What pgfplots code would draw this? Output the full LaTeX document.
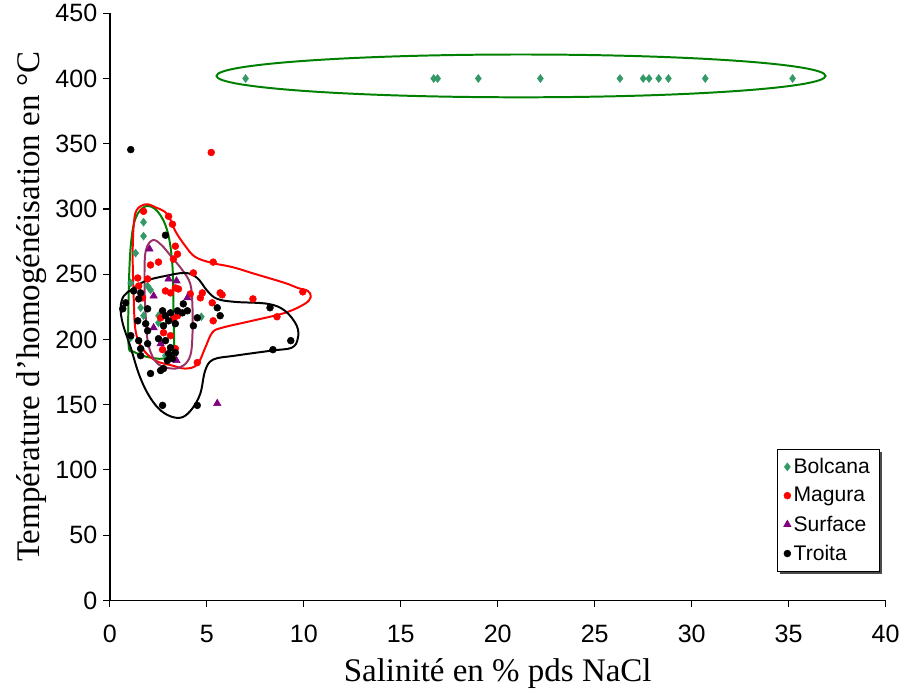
\documentclass[border=0pt]{standalone}
\usepackage{fontspec}
\setmainfont{Liberation Serif}
\newfontfamily\arial{Liberation Sans}
\usepackage{pgfplots}
\pgfplotsset{compat=1.18}
\usetikzlibrary{shadows}
\definecolor{bolc}{HTML}{339966}
\definecolor{envgreen}{HTML}{008000}
\definecolor{surf}{HTML}{800080}
\definecolor{envpurple}{HTML}{993366}
\begin{document}
\begin{tikzpicture}
\begin{axis}[
  scale only axis, width=588pt, height=445pt,
  xmin=0, xmax=40, ymin=0, ymax=450,
  axis x line*=bottom, axis y line*=left,
  axis line style={-, line width=1.3pt},
  xtick={0,5,...,40}, ytick={0,50,...,450},
  tick align=outside, major tick length=5pt,
  tick style={black, line width=0.8pt},
  /pgf/number format/assume math mode=true,
  tick label style={font=\arial\fontsize{19}{21}\selectfont},
  xticklabel style={yshift=-10pt},
  yticklabel style={xshift=-1pt},
  xlabel={Salinité en \% pds NaCl},
  ylabel={Température d'homogénéisation en °C},
  label style={font=\fontsize{25}{29}\selectfont},
  xlabel style={yshift=-5pt},
  ylabel style={yshift=0pt},
  clip=false,
  legend cell align=left,
  legend style={at={(rel axis cs:0.992,0.049)}, anchor=south east,
    font=\arial\fontsize{16}{18}\selectfont, draw=black, fill=white,
    row sep=5pt, inner sep=5pt,
    drop shadow={shadow xshift=2pt, shadow yshift=-2pt, fill=black!70, opacity=1}},
]
% Bolcana
\addplot[only marks, mark=diamond*, mark size=3pt, color=bolc] coordinates {
(7.0,400) (16.7,400) (16.9,400) (19.0,400) (22.2,400) (26.3,400) (27.5,400)
(27.8,400) (28.3,400) (28.8,400) (30.7,400) (35.2,400)
(1.74,289.9) (1.74,279.2) (1.33,266.2) (1.08,243.3) (2.10,238.0) (1.95,241.0)
(1.59,224.3) (1.74,218.2) (2.51,218.2) (2.51,212.8) (1.08,201.4) (2.87,187.6)
(4.72,217.4)
};
\addlegendentry{Bolcana}
% Magura
\addplot[only marks, mark=*, mark size=2.6pt, color=red] coordinates {
(5.23,343.3) (1.74,298.2) (3.03,294.4) (3.23,288.3) (3.38,271.5) (3.49,265.4)
(3.28,261.6) (2.51,259.3) (2.10,257.1) (5.33,259.3) (1.44,247.1) (1.95,246.4)
(2.87,237.2) (3.13,235.7) (3.38,239.5) (4.31,251.0) (4.77,235.7) (4.67,231.9)
(5.28,228.1) (5.69,235.7) (5.79,234.2) (5.33,214.3) (3.49,218.2) (3.28,215.9)
(2.77,205.2) (3.13,202.9) (3.38,193.0) (4.51,182.3) (2.72,192.2) (3.54,238.7)
(4.15,234.9) (9.95,236.5) (7.38,231.1) (8.62,217.4) (1.69,231.9) (2.62,216.6)
(1.49,241.0)
};
\addlegendentry{Magura}
% Surface
\addplot[only marks, mark=triangle*, mark size=3.2pt, color=surf] coordinates {
(2.05,269.3) (2.26,233.4) (3.03,246.4) (3.44,244.9) (2.26,209.0) (2.62,196.8)
(4.00,231.9) (3.44,183.8) (5.54,151.0)
};
\addlegendentry{Surface}
% Troita
\addplot[only marks, mark=*, mark size=2.6pt, color=black] coordinates {
(1.08,345.5) (2.87,279.9) (0.67,223.5) (0.82,228.1) (1.23,237.2) (1.59,235.7)
(1.49,231.1) (1.95,223.5) (1.44,214.3) (1.85,212.1) (1.95,206.7) (2.72,222.0)
(2.87,218.2) (3.13,220.4) (3.03,214.3) (2.77,210.5) (2.87,199.1) (3.79,227.3)
(3.74,220.4) (4.00,222.0) (3.49,222.0) (3.38,212.1) (4.31,210.5) (5.69,218.2)
(5.54,224.3) (4.51,216.6) (1.08,202.9) (1.49,199.1) (1.59,193.0) (1.95,196.8)
(2.51,200.6) (3.13,193.7) (3.03,189.2) (2.97,183.8) (3.23,185.4) (2.10,173.9)
(2.62,176.2) (2.77,177.7) (2.72,149.5) (4.51,149.5) (8.26,224.3) (9.33,199.1)
(8.41,192.2) (1.59,187.6) (3.38,189.9)
};
\addlegendentry{Troita}
% envelopes
\draw[envgreen, line width=1.5pt] (axis cs:21.2,402) ellipse [x radius=15.7, y radius=16.4];
\draw[envgreen, line width=1.5pt] plot[smooth cycle, tension=0.6] coordinates {
(axis cs:0.97,195.3) (axis cs:0.97,233.4) (axis cs:1.08,271.6) (axis cs:1.33,292.9)
(axis cs:1.85,302.1) (axis cs:2.46,298.2) (axis cs:2.97,283.0) (axis cs:3.23,256.3)
(axis cs:3.28,218.2) (axis cs:3.28,191.5) (axis cs:2.77,185.4) (axis cs:1.85,186.9)
(axis cs:1.23,190.7)};
\draw[red, line width=1.5pt] plot[smooth cycle, tension=0.6] coordinates {
(axis cs:1.23,286.8) (axis cs:1.38,299.0) (axis cs:1.85,303.6) (axis cs:2.36,301.3)
(axis cs:2.97,296.0) (axis cs:3.38,283.0) (axis cs:3.90,271.5) (axis cs:4.41,263.2)
(axis cs:5.28,258.6) (axis cs:6.31,255.5) (axis cs:7.49,250.2) (axis cs:9.03,243.3)
(axis cs:9.69,239.5) (axis cs:10.21,237.2) (axis cs:10.36,232.6) (axis cs:10.05,227.3)
(axis cs:9.03,220.4) (axis cs:7.33,214.3) (axis cs:5.79,209.0) (axis cs:5.28,205.2)
(axis cs:4.92,193.7) (axis cs:4.51,180.8) (axis cs:3.90,177.7) (axis cs:3.23,180.0)
(axis cs:2.36,183.8) (axis cs:1.69,193.0) (axis cs:1.33,206.7) (axis cs:1.23,233.4)
(axis cs:1.18,263.9)};
\draw[envpurple, line width=1.5pt] plot[smooth cycle, tension=0.6] coordinates {
(axis cs:2.21,276.1) (axis cs:2.67,272.3) (axis cs:3.23,262.4) (axis cs:3.74,253.2)
(axis cs:4.15,242.6) (axis cs:4.26,225.8) (axis cs:4.26,202.9) (axis cs:4.15,187.6)
(axis cs:3.79,180.0) (axis cs:3.23,177.7) (axis cs:2.46,181.5) (axis cs:2.00,195.3)
(axis cs:1.85,218.2) (axis cs:1.79,244.9) (axis cs:1.85,267.7)};
\draw[black, line width=1.5pt] plot[smooth cycle, tension=0.6] coordinates {
(axis cs:0.56,224.3) (axis cs:0.72,233.4) (axis cs:1.18,238.7) (axis cs:1.85,244.9)
(axis cs:2.87,248.7) (axis cs:3.90,251.0) (axis cs:4.51,247.1) (axis cs:5.03,237.2)
(axis cs:5.54,231.1) (axis cs:6.46,228.8) (axis cs:8.15,227.3) (axis cs:9.03,222.0)
(axis cs:9.64,210.5) (axis cs:9.69,200.6) (axis cs:9.38,193.7) (axis cs:8.36,191.5)
(axis cs:6.46,187.6) (axis cs:5.33,184.6) (axis cs:4.92,176.2) (axis cs:4.67,158.7)
(axis cs:4.26,147.2) (axis cs:3.74,140.4) (axis cs:3.13,141.1) (axis cs:2.51,147.2)
(axis cs:1.95,158.7) (axis cs:1.49,173.9) (axis cs:1.08,193.7) (axis cs:0.67,212.1)};
\end{axis}
\path (current bounding box.south west) ++(-9pt,0pt);
\end{tikzpicture}
\end{document}
